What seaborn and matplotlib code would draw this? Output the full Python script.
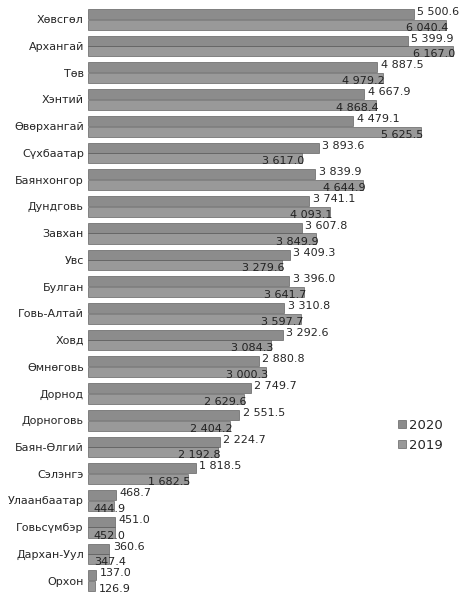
import pandas as pd
import matplotlib
matplotlib.use('Agg')
from matplotlib import pyplot as plt
import seaborn as sns

# datos
aimags = ['Хөвсгөл', 'Архангай', 'Төв', 'Хэнтий', 'Өвөрхангай', 'Сүхбаатар',
          'Баянхонгор', 'Дундговь', 'Завхан', 'Увс', 'Булган', 'Говь-Алтай',
          'Ховд', 'Өмнөговь', 'Дорнод', 'Дорноговь', 'Баян-Өлгий', 'Сэлэнгэ',
          'Улаанбаатар', 'Говьсүмбэр', 'Дархан-Уул', 'Орхон']
v2020 = [5500.6, 5399.9, 4887.5, 4667.9, 4479.1, 3893.6, 3839.9, 3741.1,
         3607.8, 3409.3, 3396.0, 3310.8, 3292.6, 2880.8, 2749.7, 2551.5,
         2224.7, 1818.5, 468.7, 451.0, 360.6, 137.0]
v2019 = [6040.4, 6167.0, 4979.2, 4868.4, 5625.5, 3617.0, 4644.9, 4093.1,
         3849.9, 3279.6, 3641.7, 3597.7, 3084.3, 3000.3, 2629.6, 2404.2,
         2192.8, 1682.5, 444.9, 452.0, 347.4, 126.9]
years = ['2020', '2019']

df = pd.concat([
    pd.DataFrame({'aimag': aimags, 'value': v2020, 'year': '2020'}),
    pd.DataFrame({'aimag': aimags, 'value': v2019, 'year': '2019'}),
])

def fmt(v):
    return f'{v:,.1f}'.replace(',', ' ')

sns.set_style('white')
plt.rcParams['font.family'] = ['DejaVu Sans']

fig, ax = plt.subplots(figsize=(4.68, 5.94), dpi=100)
fig.subplots_adjust(left=0.188, right=0.985, top=0.99, bottom=0.0)

sns.barplot(data=df, x='value', y='aimag', hue='year', hue_order=years,
            order=aimags, palette=['#8c8c8c', '#999999'], orient='h',
            width=0.8, gap=0.06, edgecolor='#4a4a4a', linewidth=0.4,
            ax=ax)

# etiquetas de cada barra
for cont, vals, yr in zip(ax.containers, [v2020, v2019], years):
    for p, v in zip(cont, vals):
        x_end = p.get_x() + p.get_width()
        if yr == '2020':
            ax.text(x_end + 60, p.get_y() + p.get_height() * 0.3, fmt(v),
                    ha='left', va='center', fontsize=8)
        elif v >= 1000:
            ax.text(x_end + 40, p.get_y() + p.get_height() * 0.8, fmt(v),
                    ha='right', va='center', fontsize=8, color='#222222')
        else:
            x_lbl = 100 if v > 300 else v + 60
            ax.text(x_lbl, p.get_y() + p.get_height() * 0.8, fmt(v),
                    ha='left', va='center', fontsize=8, color='#222222')

ax.set_xlim(0, 6300)
ax.set_xlabel('')
ax.set_ylabel('')
ax.set_xticks([])
ax.tick_params(axis='y', length=0, labelsize=8, pad=3)
sns.despine(ax=ax, left=True, bottom=True)

ax.legend(loc='center left', bbox_to_anchor=(0.8, 0.27), frameon=False,
          fontsize=9.5, handlelength=0.6, handleheight=0.6, handletextpad=0.2,
          labelspacing=0.5)

plt.savefig('out.png', dpi=100)
